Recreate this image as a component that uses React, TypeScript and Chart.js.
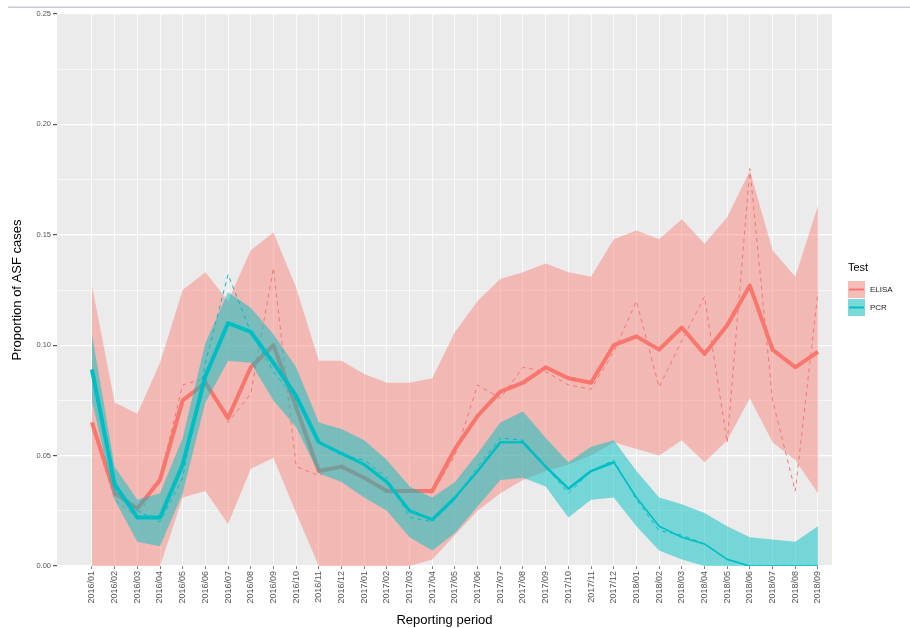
import React, { useEffect, useRef } from 'react';
import { Chart, registerables } from 'chart.js';

Chart.register(...registerables);

const periods = [
  '2016/01', '2016/02', '2016/03', '2016/04', '2016/05', '2016/06', '2016/07', '2016/08', '2016/09', '2016/10', '2016/11', '2016/12',
  '2017/01', '2017/02', '2017/03', '2017/04', '2017/05', '2017/06', '2017/07', '2017/08', '2017/09', '2017/10', '2017/11', '2017/12',
  '2018/01', '2018/02', '2018/03', '2018/04', '2018/05', '2018/06', '2018/07', '2018/08', '2018/09',
];

const seriesNames = ['ELISA', 'PCR'];
const legendTitle = 'Test';
const xTitle = 'Reporting period';
const yTitle = 'Proportion of ASF cases';

const elisaSmooth = [0.065, 0.033, 0.026, 0.039, 0.075, 0.083, 0.067, 0.090, 0.100, 0.072, 0.043, 0.045, 0.040, 0.034, 0.034, 0.034, 0.053, 0.068, 0.079, 0.083, 0.090, 0.085, 0.083, 0.100, 0.104, 0.098, 0.108, 0.096, 0.109, 0.127, 0.098, 0.090, 0.097];
const elisaRaw = [0.064, 0.030, 0.022, 0.040, 0.082, 0.085, 0.065, 0.078, 0.135, 0.045, 0.041, 0.046, 0.040, 0.033, 0.034, 0.033, 0.050, 0.082, 0.076, 0.090, 0.088, 0.082, 0.080, 0.097, 0.120, 0.081, 0.102, 0.122, 0.056, 0.180, 0.075, 0.034, 0.124];
const elisaUpper = [0.127, 0.074, 0.069, 0.092, 0.125, 0.133, 0.120, 0.143, 0.151, 0.126, 0.093, 0.093, 0.087, 0.083, 0.083, 0.085, 0.106, 0.120, 0.130, 0.133, 0.137, 0.133, 0.131, 0.148, 0.152, 0.148, 0.157, 0.146, 0.158, 0.179, 0.143, 0.131, 0.163];
const elisaLower = [0, 0, 0, 0, 0.031, 0.034, 0.019, 0.044, 0.049, 0.024, 0, 0, 0, 0, 0, 0.003, 0.014, 0.025, 0.033, 0.039, 0.043, 0.046, 0.050, 0.056, 0.053, 0.050, 0.057, 0.047, 0.057, 0.076, 0.056, 0.048, 0.033];

const pcrSmooth = [0.089, 0.037, 0.022, 0.022, 0.046, 0.086, 0.110, 0.106, 0.092, 0.077, 0.056, 0.051, 0.046, 0.038, 0.025, 0.021, 0.031, 0.043, 0.056, 0.056, 0.045, 0.035, 0.043, 0.047, 0.031, 0.018, 0.013, 0.010, 0.003, 0.000, 0.000, 0.000, 0.000];
const pcrRaw = [0.089, 0.035, 0.025, 0.020, 0.040, 0.092, 0.132, 0.106, 0.088, 0.075, 0.056, 0.050, 0.048, 0.040, 0.022, 0.020, 0.030, 0.045, 0.058, 0.057, 0.045, 0.033, 0.043, 0.048, 0.030, 0.016, 0.014, 0.010, 0.003, 0.000, 0.000, 0.000, 0.000];
const pcrUpper = [0.105, 0.045, 0.030, 0.033, 0.058, 0.101, 0.124, 0.117, 0.105, 0.090, 0.065, 0.062, 0.057, 0.048, 0.036, 0.031, 0.038, 0.051, 0.065, 0.070, 0.058, 0.047, 0.054, 0.057, 0.043, 0.031, 0.028, 0.024, 0.018, 0.013, 0.012, 0.011, 0.018];
const pcrLower = [0.075, 0.030, 0.011, 0.009, 0.033, 0.074, 0.093, 0.092, 0.075, 0.063, 0.042, 0.038, 0.031, 0.025, 0.013, 0.007, 0.015, 0.027, 0.039, 0.040, 0.036, 0.022, 0.030, 0.031, 0.018, 0.007, 0.003, 0, 0, 0, 0, 0, 0];

const RED = '#F8766D';
const TEAL = '#00BFC4';
const RED_FILL = 'rgba(248,118,109,0.44)';
const TEAL_FILL = 'rgba(0,191,196,0.5)';
const FONT = '"Liberation Sans", Arial, sans-serif';

const pts = (arr: number[]) => arr.map((v, i) => ({ x: i, y: v }));

const panelPlugin = {
  id: 'ggPanel',
  beforeDraw(chart: any) {
    const { ctx, chartArea } = chart;
    ctx.save();
    ctx.fillStyle = '#c8ccd4';
    ctx.fillRect(8, 6.5, 902, 1.5);
    ctx.fillStyle = '#EBEBEB';
    ctx.fillRect(chartArea.left, chartArea.top, chartArea.right - chartArea.left, chartArea.bottom - chartArea.top);
    ctx.restore();
  },
};

const legendPlugin = {
  id: 'ggLegend',
  afterDraw(chart: any) {
    const c = chart.ctx;
    const fills = [RED_FILL, TEAL_FILL];
    const lines = [RED, TEAL];
    c.save();
    c.textBaseline = 'middle';
    c.textAlign = 'left';
    c.fillStyle = '#000';
    c.font = `11px ${FONT}`;
    c.fillText(legendTitle, 848, 268);
    seriesNames.forEach((name, k) => {
      const y = 281 + k * 18;
      c.fillStyle = '#F2F2F2';
      c.fillRect(848, y, 17, 17);
      c.fillStyle = fills[k];
      c.fillRect(848, y, 17, 17);
      c.strokeStyle = lines[k];
      c.lineWidth = 2;
      c.beginPath();
      c.moveTo(849, y + 8.5);
      c.lineTo(864, y + 8.5);
      c.stroke();
      c.fillStyle = '#222';
      c.font = `8px ${FONT}`;
      c.fillText(name, 870, y + 9);
    });
    c.restore();
  },
};

export default function App() {
  const ref = useRef<HTMLCanvasElement>(null);
  useEffect(() => {
    if (!ref.current) return;
    const hidden = { borderWidth: 0, borderColor: 'transparent', pointRadius: 0, tension: 0 };
    const chart = new Chart(ref.current, {
      type: 'line',
      data: {
        datasets: [
          { label: 'ELISA lower', data: pts(elisaLower), ...hidden, fill: false, order: 10 },
          { label: 'ELISA upper', data: pts(elisaUpper), ...hidden, fill: { target: 0 }, backgroundColor: RED_FILL, order: 9 },
          { label: seriesNames[0], data: pts(elisaSmooth), borderColor: RED, borderWidth: 4, pointRadius: 0, tension: 0, fill: false, order: 8, borderJoinStyle: 'round' },
          { label: seriesNames[0] + ' raw', data: pts(elisaRaw), borderColor: RED, borderWidth: 1, borderDash: [4, 4], pointRadius: 0, tension: 0, fill: false, order: 7 },
          { label: 'PCR lower', data: pts(pcrLower), ...hidden, fill: false, order: 6 },
          { label: 'PCR upper', data: pts(pcrUpper), ...hidden, fill: { target: 4 }, backgroundColor: TEAL_FILL, order: 5 },
          {
            label: seriesNames[1], data: pts(pcrSmooth), borderColor: TEAL, borderWidth: 4, pointRadius: 0, tension: 0, fill: false, order: 4, borderJoinStyle: 'round',
            segment: {
              borderWidth: (ctx: any) => (ctx.p0DataIndex < 10 ? 4 : ctx.p0DataIndex < 16 ? 3.2 : ctx.p0DataIndex < 23 ? 2.5 : 1.6),
            },
          },
          { label: seriesNames[1] + ' raw', data: pts(pcrRaw), borderColor: TEAL, borderWidth: 1, borderDash: [4, 4], pointRadius: 0, tension: 0, fill: false, order: 3 },
        ] as any,
      },
      options: {
        responsive: false,
        animation: false,
        devicePixelRatio: 1,
        layout: { padding: { top: 14, right: 78, bottom: 0, left: 0 } },
        plugins: { legend: { display: false }, tooltip: { enabled: false } },
        scales: {
          x: {
            type: 'linear',
            min: -1.54,
            max: 32.62,
            afterBuildTicks: (scale: any) => {
              scale.ticks = periods.map((_, i) => ({ value: i }));
            },
            afterFit: (scale: any) => {
              scale.height = 62;
            },
            ticks: {
              autoSkip: false,
              maxRotation: 90,
              minRotation: 90,
              padding: 2,
              color: '#555',
              font: { size: 9, family: FONT },
              callback: (v: any) => periods[Math.round(Number(v))] ?? '',
            },
            grid: { color: '#FFFFFF', lineWidth: 0.8, tickLength: 3, tickColor: '#555', drawTicks: true },
            border: { display: false },
            title: { display: true, text: xTitle, color: '#000', font: { size: 13, family: FONT }, padding: { top: 0, bottom: 0 } },
          },
          y: {
            type: 'linear',
            min: 0,
            max: 0.25,
            afterBuildTicks: (scale: any) => {
              const t = [];
              for (let k = 0; k <= 10; k++) t.push({ value: k * 0.025 });
              scale.ticks = t;
            },
            afterFit: (scale: any) => {
              scale.width = 57;
            },
            ticks: {
              padding: 2,
              color: '#555',
              font: { size: 7.5, family: FONT },
              callback: (v: any) => {
                const n = Math.round(Number(v) * 1000);
                return n % 50 === 0 ? (n / 1000).toFixed(2) : '';
              },
            },
            grid: {
              color: '#FFFFFF',
              lineWidth: (ctx: any) => (Math.round(ctx.tick.value * 1000) % 50 === 0 ? 1.2 : 0.6),
              tickLength: 4,
              tickColor: (ctx: any) => (Math.round(ctx.tick.value * 1000) % 50 === 0 ? '#555' : 'rgba(0,0,0,0)'),
            },
            border: { display: false },
            title: { display: true, text: yTitle, color: '#000', font: { size: 13, family: FONT }, padding: { top: 10, bottom: 0 } },
          },
        },
      },
      plugins: [panelPlugin, legendPlugin],
    });
    return () => chart.destroy();
  }, []);
  return (
    <div style={{ position: 'fixed', left: 0, top: 0, width: 910, height: 628, background: '#fff' }}>
      <canvas ref={ref} width={910} height={628} style={{ width: 910, height: 628, display: 'block' }} />
    </div>
  );
}
